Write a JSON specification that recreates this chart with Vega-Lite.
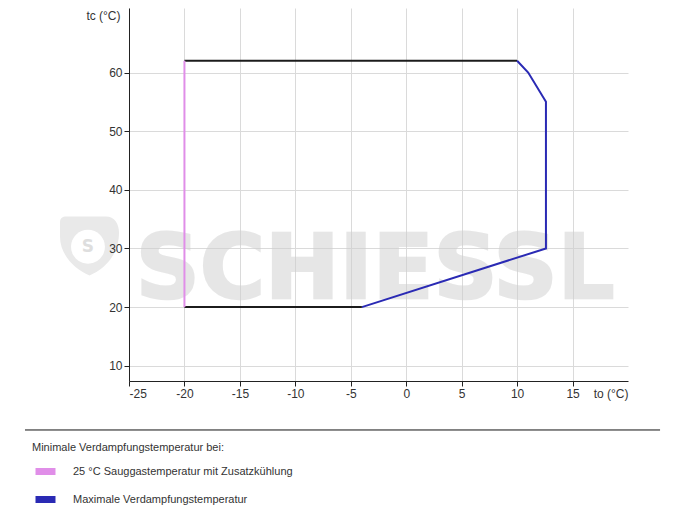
{
  "$schema": "https://vega.github.io/schema/vega-lite/v6.json",
  "width": 499,
  "height": 373,
  "autosize": {"type": "none"},
  "padding": {"left": 129, "top": 8, "right": 57, "bottom": 133},
  "background": "white",
  "config": {
    "view": {"stroke": null},
    "font": "Liberation Sans",
    "axis": {
      "labelFont": "Liberation Sans", "labelFontSize": 12, "labelColor": "#333333",
      "titleFont": "Liberation Sans", "titleFontSize": 12, "titleColor": "#333333", "titleFontWeight": "normal",
      "domainColor": "#222222", "tickColor": "#222222", "tickSize": 5, "labelPadding": 2,
      "gridColor": "#dadada", "gridWidth": 1
    }
  },
  "resolve": {"axis": {"y": "independent"}},
  "datasets": {
    "envelope": [
      {"segment": "oben", "series": "Grenze", "i": 1, "to": -20, "tc": 62},
      {"segment": "oben", "series": "Grenze", "i": 2, "to": 10, "tc": 62},
      {"segment": "max", "series": "Maximale Verdampfungstemperatur", "i": 1, "to": 10, "tc": 62},
      {"segment": "max", "series": "Maximale Verdampfungstemperatur", "i": 2, "to": 11, "tc": 60},
      {"segment": "max", "series": "Maximale Verdampfungstemperatur", "i": 3, "to": 12.6, "tc": 55},
      {"segment": "max", "series": "Maximale Verdampfungstemperatur", "i": 4, "to": 12.6, "tc": 30},
      {"segment": "max", "series": "Maximale Verdampfungstemperatur", "i": 5, "to": -4, "tc": 20},
      {"segment": "unten", "series": "Grenze", "i": 1, "to": -4, "tc": 20},
      {"segment": "unten", "series": "Grenze", "i": 2, "to": -20, "tc": 20},
      {"segment": "min", "series": "25 °C Sauggastemperatur mit Zusatzkühlung", "i": 1, "to": -20, "tc": 20},
      {"segment": "min", "series": "25 °C Sauggastemperatur mit Zusatzkühlung", "i": 2, "to": -20, "tc": 62}
    ]
  },
  "layer": [
    {
      "data": {"values": [{"logo": "Schild"}]},
      "mark": {"type": "point", "filled": true, "shape": "M-1,-1 L0.55,-1 C0.85,-1 1,-0.75 1,-0.45 C1,0.3 0.5,0.8 0,1 C-0.5,0.8 -1,0.3 -1,-0.3 L-1,-0.8 C-1,-0.95 -0.9,-1 -0.8,-1 Z", "size": 3481, "color": "#e9e9e9", "opacity": 1},
      "encoding": {
        "x": {"datum": -28.56, "type": "quantitative", "scale": {"domain": [-25, 20], "nice": false, "zero": false},
          "axis": {"grid": true, "values": [-25, -20, -15, -10, -5, 0, 5, 10, 15], "labelExpr": "'' + datum.value", "title": "to (°C)", "titleAnchor": "end", "titleAlign": "right", "titleX": 499, "titleY": 7, "titleBaseline": "top", "titlePadding": 0}},
        "y": {"datum": 30.44, "type": "quantitative", "axis": null}
      }
    },
    {
      "data": {"values": [{"logo": "Blume"}]},
      "mark": {"type": "point", "filled": true, "shape": "circle", "size": 1150, "color": "#ffffff", "opacity": 1},
      "encoding": {
        "x": {"datum": -28.7, "type": "quantitative", "scale": {"domain": [-25, 20], "nice": false, "zero": false},
          "axis": {"grid": true, "values": [-25, -20, -15, -10, -5, 0, 5, 10, 15], "labelExpr": "'' + datum.value", "title": "to (°C)", "titleAnchor": "end", "titleAlign": "right", "titleX": 499, "titleY": 7, "titleBaseline": "top", "titlePadding": 0}},
        "y": {"datum": 30.3, "type": "quantitative", "axis": null}
      }
    },
    {
      "data": {"values": [{"text": "S"}]},
      "mark": {"type": "text", "font": "DejaVu Sans", "fontWeight": "bold", "fontSize": 17, "align": "center", "baseline": "middle", "color": "#dedede"},
      "encoding": {
        "text": {"field": "text"},
        "x": {"datum": -28.7, "type": "quantitative", "scale": {"domain": [-25, 20], "nice": false, "zero": false},
          "axis": {"grid": true, "values": [-25, -20, -15, -10, -5, 0, 5, 10, 15], "labelExpr": "'' + datum.value", "title": "to (°C)", "titleAnchor": "end", "titleAlign": "right", "titleX": 499, "titleY": 7, "titleBaseline": "top", "titlePadding": 0}},
        "y": {"datum": 30.3, "type": "quantitative", "axis": null}
      }
    },
    {
      "data": {"values": [{"text": "SCHIESSL"}]},
      "mark": {"type": "text", "font": "DejaVu Sans", "fontWeight": "bold", "fontSize": 89, "align": "left", "baseline": "alphabetic", "fill": "#cfcfcf", "stroke": "#cfcfcf", "strokeWidth": 2.5, "opacity": 0.5},
      "encoding": {
        "text": {"field": "text"},
        "x": {"datum": -24.4, "type": "quantitative", "scale": {"domain": [-25, 20], "nice": false, "zero": false},
          "axis": {"grid": true, "values": [-25, -20, -15, -10, -5, 0, 5, 10, 15], "labelExpr": "'' + datum.value", "title": "to (°C)", "titleAnchor": "end", "titleAlign": "right", "titleX": 499, "titleY": 7, "titleBaseline": "top", "titlePadding": 0}},
        "y": {"datum": 21.55, "type": "quantitative", "scale": {"domain": [7.4, 71], "nice": false, "zero": false},
          "axis": {"orient": "left", "grid": true, "values": [10, 20, 30, 40, 50, 60], "labels": false, "ticks": false, "domain": false, "title": null, "zindex": 0}}
      }
    },
    {
      "data": {"name": "envelope"},
      "mark": {"type": "line", "strokeWidth": 2},
      "encoding": {
        "x": {
          "field": "to", "type": "quantitative",
          "scale": {"domain": [-25, 20], "nice": false, "zero": false},
          "axis": {"grid": true, "values": [-25, -20, -15, -10, -5, 0, 5, 10, 15], "labelExpr": "'' + datum.value", "title": "to (°C)", "titleAnchor": "end", "titleAlign": "right", "titleX": 499, "titleY": 7, "titleBaseline": "top", "titlePadding": 0}
        },
        "y": {
          "field": "tc", "type": "quantitative",
          "scale": {"domain": [7.4, 71], "nice": false, "zero": false},
          "axis": {"orient": "left", "grid": false, "zindex": 1, "values": [10, 20, 30, 40, 50, 60], "title": "tc (°C)", "titleAngle": 0, "titleAlign": "right", "titleBaseline": "middle", "titleX": -9, "titleY": 7}
        },
        "detail": {"field": "segment"},
        "order": {"field": "i"},
        "color": {
          "field": "series", "type": "nominal",
          "scale": {
            "domain": ["25 °C Sauggastemperatur mit Zusatzkühlung", "Maximale Verdampfungstemperatur", "Grenze"],
            "range": ["#e08ee8", "#2a2ab4", "#1c1c1c"]
          },
          "legend": {
            "values": ["25 °C Sauggastemperatur mit Zusatzkühlung", "Maximale Verdampfungstemperatur"],
            "title": "Minimale Verdampfungstemperatur bei:",
            "orient": "none", "legendX": -97, "legendY": 434, "direction": "vertical",
            "titleFont": "Liberation Sans", "titleFontSize": 11, "titleFontWeight": "normal", "titleColor": "#333333", "titlePadding": 5, "titleLimit": 0,
            "labelFont": "Liberation Sans", "labelFontSize": 11, "labelColor": "#333333", "labelOffset": 14, "labelLimit": 0,
            "symbolType": "stroke", "symbolSize": 400, "symbolStrokeWidth": 7, "symbolOffset": 0, "rowPadding": -4,
            "encode": {"symbols": {"update": {"strokeCap": {"value": "butt"}}}}
          }
        }
      }
    },
    {
      "data": {"values": [{"name": "Trennlinie"}]},
      "mark": {"type": "rule", "color": "#111111", "strokeWidth": 1},
      "encoding": {
        "x": {"datum": -34.38, "type": "quantitative", "scale": {"domain": [-25, 20], "nice": false, "zero": false},
          "axis": {"grid": true, "values": [-25, -20, -15, -10, -5, 0, 5, 10, 15], "labelExpr": "'' + datum.value", "title": "to (°C)", "titleAnchor": "end", "titleAlign": "right", "titleX": 499, "titleY": 7, "titleBaseline": "top", "titlePadding": 0}},
        "x2": {"datum": 22.89},
        "y": {"datum": -0.95, "type": "quantitative", "axis": null}
      }
    }
  ]
}
